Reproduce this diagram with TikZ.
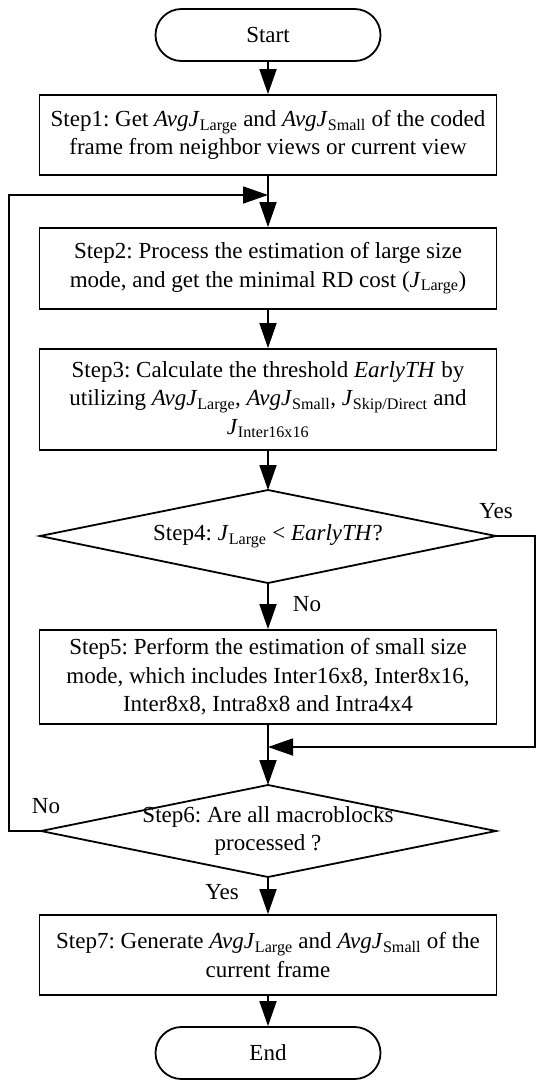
\documentclass[tikz,border=0pt]{standalone}
\usepackage{fontspec}
\setmainfont{Liberation Serif}
\usetikzlibrary{arrows.meta}
\frenchspacing
\newcommand{\fsz}{\fontsize{23}{28.5}\selectfont}
\newcommand{\sbs}[1]{\textsubscript{#1}}
\begin{document}
\begin{tikzpicture}[x=1pt,y=-1pt,
  ln/.style={line width=1.8pt},
  arr/.style={ln,-{Triangle[length=25pt,width=17pt]}},
  stepbox/.style={draw,ln,minimum width=457pt,inner sep=0pt,align=center,font=\fsz},
  term/.style={draw,ln,rounded corners=26pt,minimum width=225pt,minimum height=52pt,inner sep=0pt,font=\fsz},
  lbl/.style={font=\fsz,inner sep=0pt},
  txt/.style={font=\fsz,inner sep=0pt,align=center}]
\useasboundingbox (0,0) rectangle (537,1081);

\node[term] (start) at (268,35) {Start};
\node[stepbox,minimum height=80pt] (s1) at (268,135)
  {Step1: Get \textit{AvgJ}\sbs{Large} and \textit{AvgJ}\sbs{Small} of the coded\\frame from neighbor views or current view};
\node[stepbox,minimum height=81pt] (s2) at (268,268.5)
  {Step2: Process the estimation of large size\\mode, and get the minimal RD cost (\textit{J}\sbs{Large})};
\node[stepbox,minimum height=101pt] (s3) at (268,399.5)
  {Step3: Calculate the threshold \textit{EarlyTH} by\\utilizing \textit{AvgJ}\sbs{Large}, \textit{AvgJ}\sbs{Small}, \textit{J}\sbs{Skip/Direct} and\\\textit{J}\sbs{Inter16x16}};

% diamond 4
\coordinate (d4n) at (268,490);
\coordinate (d4e) at (496,536);
\coordinate (d4s) at (268,583);
\coordinate (d4w) at (40,536);
\draw[ln,line join=miter] (d4n) -- (d4e) -- (d4s) -- (d4w) -- cycle;
\node[txt] (d4) at (268,536) {Step4: \textit{J}\sbs{Large} {<} \textit{EarlyTH}?};

\node[stepbox,minimum height=94pt] (s5) at (268,677)
  {Step5: Perform the estimation of small size\\mode, which includes Inter16x8, Inter8x16,\\Inter8x8, Intra8x8 and Intra4x4};

% diamond 6
\coordinate (d6n) at (268,785);
\coordinate (d6e) at (496,831);
\coordinate (d6s) at (268,877);
\coordinate (d6w) at (41,831);
\draw[ln,line join=miter] (d6n) -- (d6e) -- (d6s) -- (d6w) -- cycle;
\node[txt] (d6) at (268,831) {Step6: Are all macroblocks\\processed ?};

\node[stepbox,minimum height=80pt] (s7) at (268,955)
  {Step7: Generate \textit{AvgJ}\sbs{Large} and \textit{AvgJ}\sbs{Small} of the\\current frame};
\node[term] (end) at (268,1053) {End};

% junctions
\coordinate (j1) at (268,195);
\coordinate (j2) at (268,747);
\coordinate (r1) at (535,536);
\coordinate (l1) at (9,831);

\draw[arr] (start) -- (s1);
\draw[arr] (s1) -- (s2);
\draw[arr] (s2) -- (s3);
\draw[arr] (s3) -- (d4n);
\draw[arr] (d4s) -- (s5);
\draw[arr] (s5) -- (d6n);
\draw[arr] (d6s) -- (s7);
\draw[arr] (s7) -- (end);
\draw[arr] (d4e) -- (r1) |- (j2);
\draw[arr] (d6w) -- (l1) |- (j1);

\node[lbl] (yes4) at (496,511) {Yes};
\node[lbl] (no4) at (307,604) {No};
\node[lbl] (no6) at (46,806) {No};
\node[lbl] (yes6) at (222,892) {Yes};
\end{tikzpicture}
\end{document}
